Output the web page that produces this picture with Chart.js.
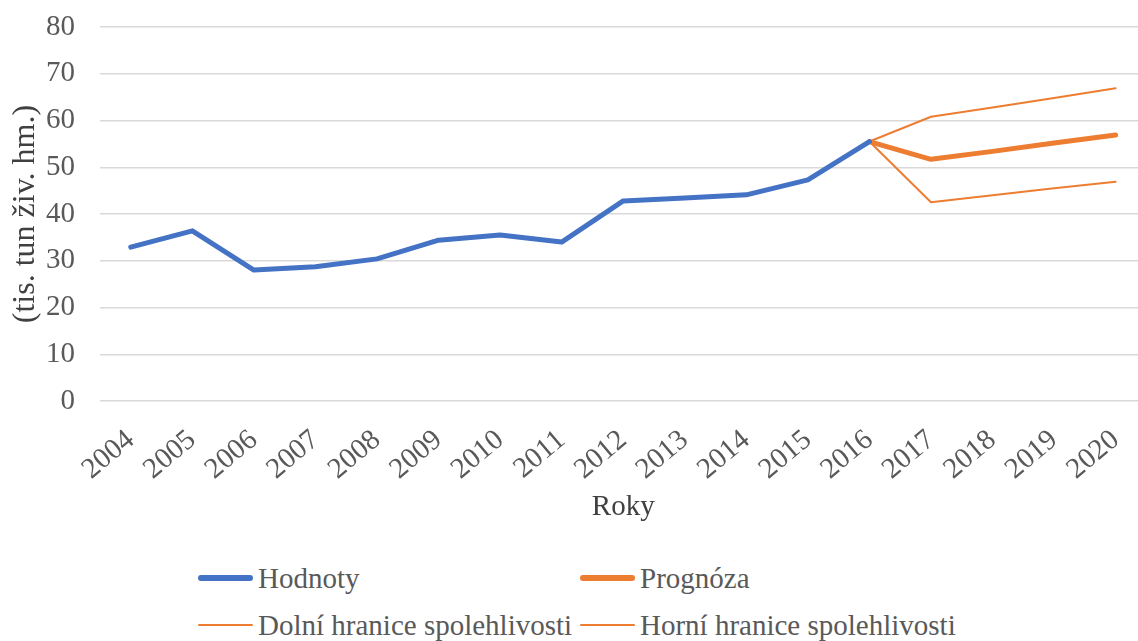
<!DOCTYPE html>
<html>
<head>
<meta charset="utf-8">
<script src="https://cdn.jsdelivr.net/npm/chart.js@4"></script>
<style>
  html, body { margin: 0; padding: 0; background: #fff; overflow: hidden; }
  #wrap { position: relative; width: 1152px; height: 641px; }
  #chartBox { position: absolute; left: 0; top: 0; width: 1152px; height: 525px; }
  #legend {
    position: absolute; left: 198px; top: 560px;
    display: grid; grid-template-columns: 382px 420px; row-gap: 11px;
    font-family: 'Liberation Serif'; font-size: 29px; color: #595959;
  }
  .item { display: flex; align-items: center; height: 36px; white-space: nowrap; }
  .swatch { width: 55px; margin-right: 5px; border-radius: 3px; }
</style>
</head>
<body>
<div id="wrap">
  <div id="chartBox"><canvas id="chart"></canvas></div>
  <div id="legend"></div>
</div>
<script>
const years = ["2004","2005","2006","2007","2008","2009","2010","2011","2012","2013","2014","2015","2016","2017","2018","2019","2020"];
const hodnoty = [32.9, 36.4, 28.0, 28.7, 30.4, 34.4, 35.5, 34.0, 42.8, 43.4, 44.1, 47.3, 55.5, null, null, null, null];
const prognoza = [null, null, null, null, null, null, null, null, null, null, null, null, 55.5, 51.7, 53.4, 55.2, 56.9];
const dolni = [null, null, null, null, null, null, null, null, null, null, null, null, 55.5, 42.5, 44.0, 45.5, 46.9];
const horni = [null, null, null, null, null, null, null, null, null, null, null, null, 55.5, 60.8, 62.8, 64.8, 66.9];
const yTicks = [0, 10, 20, 30, 40, 50, 60, 70, 80];

const BLUE = "#4472C4";
const ORANGE = "#ED7D31";
const FONT = "Liberation Serif";

function lineSet(label, data, color, width) {
    return {
        label: label, data: data, borderColor: color, backgroundColor: color,
        borderWidth: width, pointRadius: 0, tension: 0, spanGaps: false,
        borderJoinStyle: "round", borderCapStyle: "round"
    };
}

const chart = new Chart(document.getElementById("chart"), {
    type: "line",
    data: {
        labels: years,
        datasets: [
            lineSet("Hodnoty", hodnoty, BLUE, 5),
            lineSet("Prognóza", prognoza, ORANGE, 5),
            lineSet("Dolní hranice spolehlivosti", dolni, ORANGE, 2),
            lineSet("Horní hranice spolehlivosti", horni, ORANGE, 2)
        ]
    },
    options: {
        responsive: true,
        maintainAspectRatio: false,
        animation: false,
        layout: { padding: { top: 27, left: 0, right: 0, bottom: 0 } },
        plugins: { legend: { display: false }, tooltip: { enabled: false } },
        scales: {
            x: {
                offset: true,
                afterFit: (axis) => { axis.height = 124; },
                grid: { display: false },
                border: { display: false },
                ticks: {
                    color: "#595959", font: { family: FONT, size: 29 },
                    minRotation: 40, maxRotation: 40, padding: 14, autoSkip: false
                },
                title: {
                    display: true, text: "Roky", color: "#404040",
                    font: { family: FONT, size: 29 }, padding: { top: 0, bottom: 0 }
                }
            },
            y: {
                min: 0, max: 80,
                afterBuildTicks: (axis) => { axis.ticks = yTicks.map(v => ({ value: v })); },
                afterFit: (axis) => {
                    axis.width = 100;
                    axis.paddingTop = 0;
                    axis.paddingBottom = 0;
                },
                grid: { color: "#d9d9d9", lineWidth: 1.5, drawTicks: false },
                border: { display: false },
                ticks: { color: "#595959", font: { family: FONT, size: 29 }, padding: 25 },
                title: {
                    display: true, text: "(tis. tun živ. hm.)", color: "#404040",
                    font: { family: FONT, size: 32 }, padding: { top: 6, bottom: 0 }
                }
            }
        }
    }
});

// legend as a 2x2 grid built from the chart's datasets
const legendEl = document.getElementById("legend");
chart.data.datasets.forEach(ds => {
    const item = document.createElement("div");
    item.className = "item";
    const sw = document.createElement("span");
    sw.className = "swatch";
    sw.style.height = (ds.borderWidth + 0.5) + "px";
    sw.style.background = ds.borderColor;
    const txt = document.createElement("span");
    txt.textContent = ds.label;
    item.appendChild(sw);
    item.appendChild(txt);
    legendEl.appendChild(item);
});
</script>
</body>
</html>
